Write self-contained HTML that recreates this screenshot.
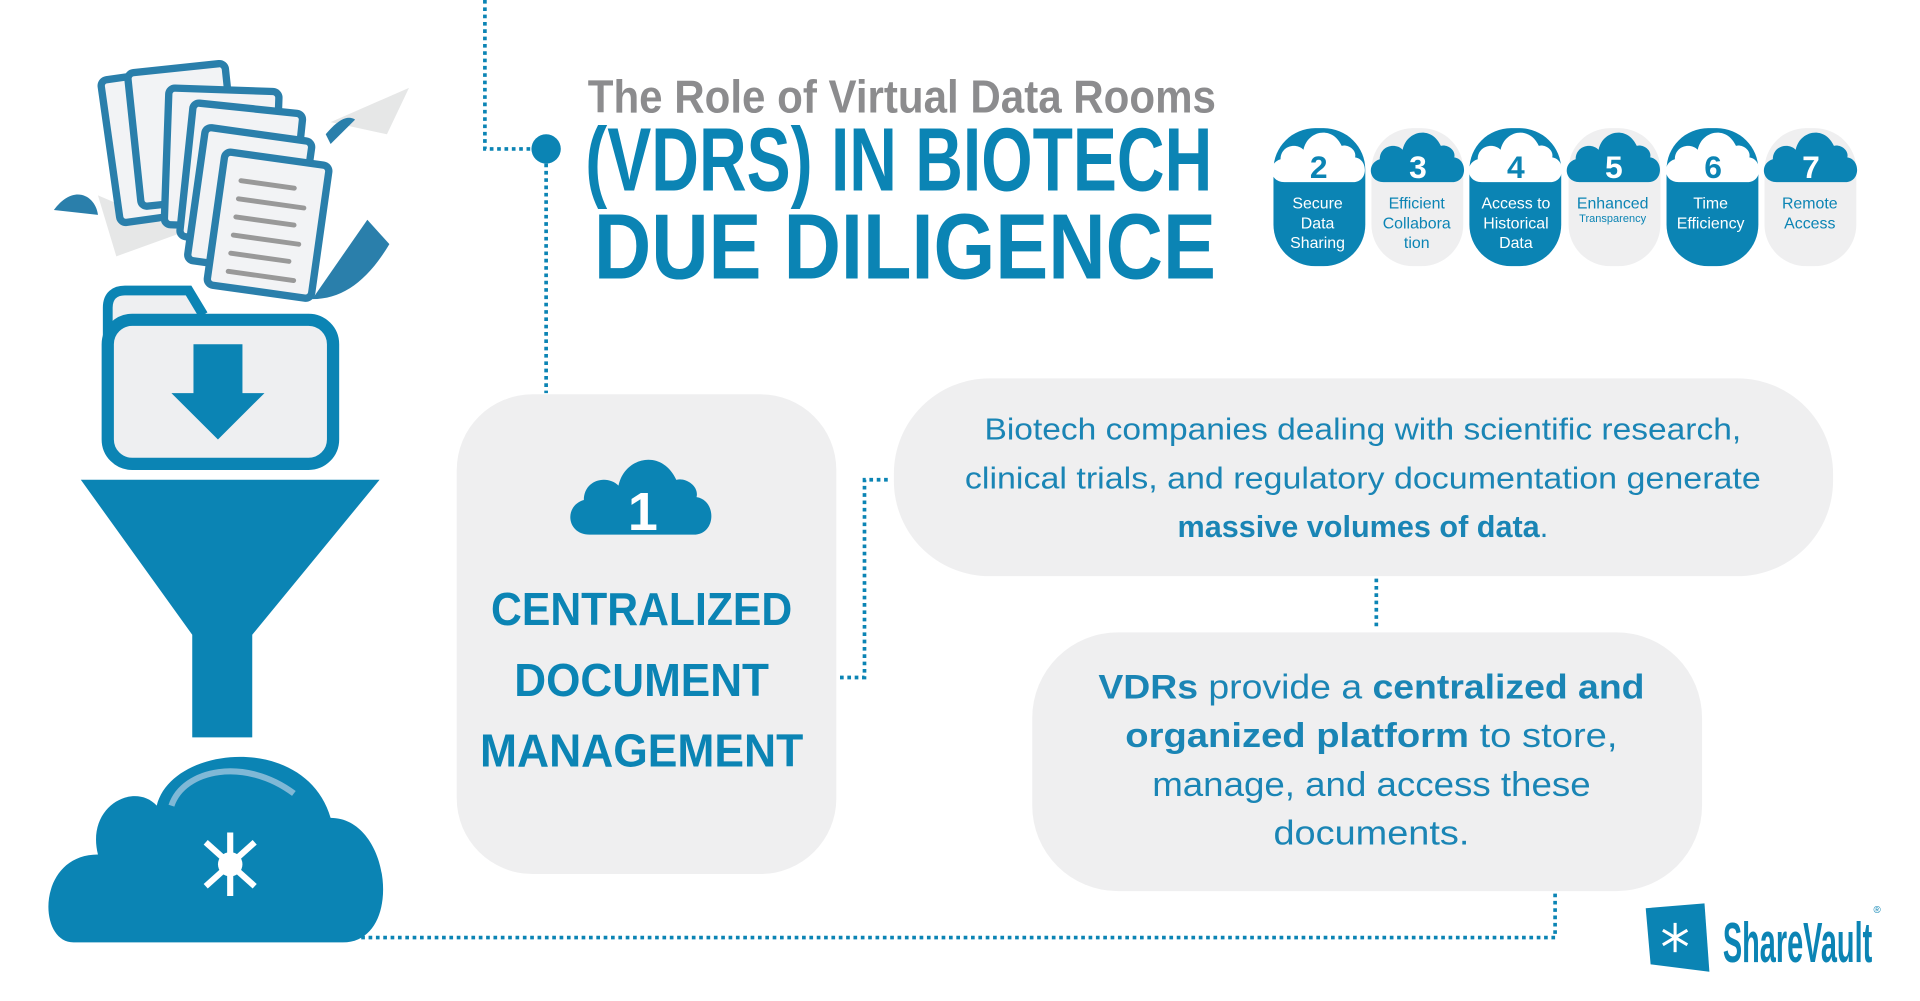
<!DOCTYPE html>
<html><head><meta charset="utf-8"><style>
html,body{margin:0;padding:0;background:#fff;width:1920px;height:1001px;overflow:hidden}
svg{display:block}
text{font-family:"Liberation Sans",sans-serif}
</style></head><body>
<svg width="1920" height="1001" viewBox="0 0 1568 820" preserveAspectRatio="none" xmlns="http://www.w3.org/2000/svg">
<defs>
<path id="cloud" d="M-36,22 C-52,22 -54,2 -40,-2 C-40,-16 -24,-20 -16,-12 C-12,-32 14,-38 24,-16 C30,-18 40,-12 38,-4 C52,-2 52,22 36,22 Z"/>
</defs>
<g fill="none" stroke="#0b84b4" stroke-width="3" stroke-dasharray="3,3">
<path d="M396,0 V122 H440"/>
<path d="M446,122 V322"/>
<path d="M686,555 H706 V393 H728"/>
<path d="M1124,474 V516"/>
<path d="M1270,732 V768 H290"/>
</g>
<circle cx="446" cy="122" r="12" fill="#0b84b4"/>

<!-- left illustration -->
<path d="M44,172 C60,150 78,160 80,176 Z" fill="#2a7fab"/>
<path d="M80,160 L150,190 L95,210 Z" fill="#e6e7e7"/>
<path d="M270,100 L334,72 L316,110 Z" fill="#e6e7e7"/>
<path d="M266,110 C276,98 284,94 290,98 L270,118 Z" fill="#2a7fab"/>
<path d="M300,180 L318,200 C300,230 280,245 255,245 Z" fill="#2a7fab"/>
<g stroke="#2a7fab" stroke-width="6" fill="#f2f3f5" stroke-linejoin="round">
<rect x="0" y="0" width="50" height="118" rx="5" transform="translate(82,66) rotate(-8)"/>
<rect x="0" y="0" width="80" height="110" rx="5" transform="translate(104,60) rotate(-6)"/>
<rect x="0" y="0" width="90" height="112" rx="5" transform="translate(138,72) rotate(2)"/>
<rect x="0" y="0" width="90" height="110" rx="5" transform="translate(158,84) rotate(6)"/>
<rect x="0" y="0" width="88" height="110" rx="5" transform="translate(168,104) rotate(8)"/>
</g>
<g transform="translate(184,124) rotate(8)">
<rect x="0" y="0" width="86" height="110" rx="5" stroke="#2a7fab" stroke-width="6" fill="#f2f3f5"/>
<g stroke="#999" stroke-width="4" stroke-linecap="round">
<line x1="16" y1="22" x2="60" y2="22"/><line x1="16" y1="37" x2="70" y2="37"/>
<line x1="16" y1="52" x2="64" y2="52"/><line x1="16" y1="67" x2="70" y2="67"/>
<line x1="16" y1="82" x2="64" y2="82"/><line x1="16" y1="97" x2="70" y2="97"/>
</g></g>
<path d="M106,296 V262 C106,252 112,248 120,248 H172 L184,268" fill="#eeeff1" stroke="#0b84b4" stroke-width="8" transform="translate(-18,-10)"/>
<rect x="88" y="262" width="184" height="118" rx="20" fill="#eeeff1" stroke="#0b84b4" stroke-width="10"/>
<path d="M158,282 H198 V322 H216 L178,360 L140,322 H158 Z" fill="#0b84b4"/>
<path d="M66,393 H310 L206,520 V604 H157 V520 Z" fill="#0b84b4"/>
<path d="M60,772 C30,772 30,700 80,700 C70,660 110,640 128,660 C140,610 250,600 270,670 C320,670 330,772 280,772 Z" fill="#0b84b4"/>
<path d="M140,660 C150,630 200,620 240,650" stroke="#7fb8d6" stroke-width="5" fill="none"/>
<g stroke="#fff" stroke-width="5"><line x1="188" y1="682" x2="188" y2="734"/><line x1="168" y1="690" x2="208" y2="726"/><line x1="208" y1="690" x2="168" y2="726"/></g>
<circle cx="188" cy="708" r="10" fill="#fff"/>

<!-- title -->
<text x="480" y="92" font-size="38" font-weight="bold" fill="#8c8c8e" textLength="513" lengthAdjust="spacingAndGlyphs">The Role of Virtual Data Rooms</text>
<text x="478" y="156" font-size="74" font-weight="bold" fill="#0b84b4" textLength="512" lengthAdjust="spacingAndGlyphs">(VDRS) IN BIOTECH</text>
<text x="485" y="228" font-size="76" font-weight="bold" fill="#0b84b4" textLength="508" lengthAdjust="spacingAndGlyphs">DUE DILIGENCE</text>

<!-- pills -->
<g font-size="13" text-anchor="middle">
<rect x="1040" y="105" width="75" height="113" rx="34" fill="#0b84b4"/>
<use href="#cloud" transform="translate(1077,132) scale(0.78)" fill="#fff"/>
<text x="1077" y="146" font-size="26" font-weight="bold" fill="#0b84b4">2</text>
<text x="1076" y="171" fill="#fff">Secure</text><text x="1076" y="187" fill="#fff">Data</text><text x="1076" y="203" fill="#fff">Sharing</text>

<rect x="1120" y="105" width="75" height="113" rx="34" fill="#efeff0"/>
<use href="#cloud" transform="translate(1158,132) scale(0.78)" fill="#0b84b4"/>
<text x="1158" y="146" font-size="26" font-weight="bold" fill="#fff">3</text>
<text x="1157" y="171" fill="#0b84b4">Efficient</text><text x="1157" y="187" fill="#0b84b4">Collabora</text><text x="1157" y="203" fill="#0b84b4">tion</text>

<rect x="1200" y="105" width="75" height="113" rx="34" fill="#0b84b4"/>
<use href="#cloud" transform="translate(1238,132) scale(0.78)" fill="#fff"/>
<text x="1238" y="146" font-size="26" font-weight="bold" fill="#0b84b4">4</text>
<text x="1238" y="171" fill="#fff">Access to</text><text x="1238" y="187" fill="#fff">Historical</text><text x="1238" y="203" fill="#fff">Data</text>

<rect x="1281" y="105" width="75" height="113" rx="34" fill="#efeff0"/>
<use href="#cloud" transform="translate(1318,132) scale(0.78)" fill="#0b84b4"/>
<text x="1318" y="146" font-size="26" font-weight="bold" fill="#fff">5</text>
<text x="1317" y="171" fill="#0b84b4">Enhanced</text><text x="1317" y="182" font-size="9" fill="#0b84b4">Transparency</text>

<rect x="1361" y="105" width="75" height="113" rx="34" fill="#0b84b4"/>
<use href="#cloud" transform="translate(1399,132) scale(0.78)" fill="#fff"/>
<text x="1399" y="146" font-size="26" font-weight="bold" fill="#0b84b4">6</text>
<text x="1397" y="171" fill="#fff">Time</text><text x="1397" y="187" fill="#fff">Efficiency</text>

<rect x="1441" y="105" width="75" height="113" rx="34" fill="#efeff0"/>
<use href="#cloud" transform="translate(1479,132) scale(0.78)" fill="#0b84b4"/>
<text x="1479" y="146" font-size="26" font-weight="bold" fill="#fff">7</text>
<text x="1478" y="171" fill="#0b84b4">Remote</text><text x="1478" y="187" fill="#0b84b4">Access</text>
</g>

<!-- box 1 -->
<rect x="373" y="323" width="310" height="393" rx="62" fill="#efeff0"/>
<use href="#cloud" transform="translate(524,412) scale(1.18)" fill="#0b84b4"/>
<text x="525" y="434" font-size="44" font-weight="bold" fill="#fff" text-anchor="middle">1</text>
<g font-weight="bold" fill="#0b84b4" text-anchor="middle" font-size="38">
<text x="524" y="512" textLength="246" lengthAdjust="spacingAndGlyphs">CENTRALIZED</text>
<text x="524" y="570" textLength="208" lengthAdjust="spacingAndGlyphs">DOCUMENT</text>
<text x="524" y="628" textLength="264" lengthAdjust="spacingAndGlyphs">MANAGEMENT</text>
</g>

<!-- box 2 -->
<rect x="730" y="310" width="767" height="162" rx="78" fill="#efeff0"/>
<g font-size="25" fill="#1a85b5" text-anchor="middle">
<text x="1113" y="360" textLength="618" lengthAdjust="spacingAndGlyphs">Biotech companies dealing with scientific research,</text>
<text x="1113" y="400" textLength="650" lengthAdjust="spacingAndGlyphs">clinical trials, and regulatory documentation generate</text>
<text x="1113" y="440"><tspan font-weight="bold">massive volumes of data</tspan>.</text>
</g>

<!-- box 3 -->
<rect x="843" y="518" width="547" height="212" rx="70" fill="#efeff0"/>
<g font-size="28" fill="#1a85b5" text-anchor="middle">
<text x="1120" y="572" textLength="446" lengthAdjust="spacingAndGlyphs"><tspan font-weight="bold">VDRs</tspan> provide a <tspan font-weight="bold">centralized and</tspan></text>
<text x="1120" y="612" textLength="402" lengthAdjust="spacingAndGlyphs"><tspan font-weight="bold">organized platform</tspan> to store,</text>
<text x="1120" y="652" textLength="358" lengthAdjust="spacingAndGlyphs">manage, and access these</text>
<text x="1120" y="692" textLength="160" lengthAdjust="spacingAndGlyphs">documents.</text>
</g>

<!-- logo -->
<path d="M1344,744 L1392,740 L1396,796 L1348,790 Z" fill="#0b84b4"/>
<g stroke="#fff" stroke-width="2.5"><line x1="1368" y1="756" x2="1368" y2="780"/><line x1="1358" y1="762" x2="1378" y2="774"/><line x1="1378" y1="762" x2="1358" y2="774"/></g>
<text x="1407" y="788" font-size="46" font-weight="bold" fill="#0b84b4" textLength="122" lengthAdjust="spacingAndGlyphs">ShareVault</text>
<text x="1530" y="748" font-size="8" fill="#0b84b4">®</text>
</svg>
</body></html>
